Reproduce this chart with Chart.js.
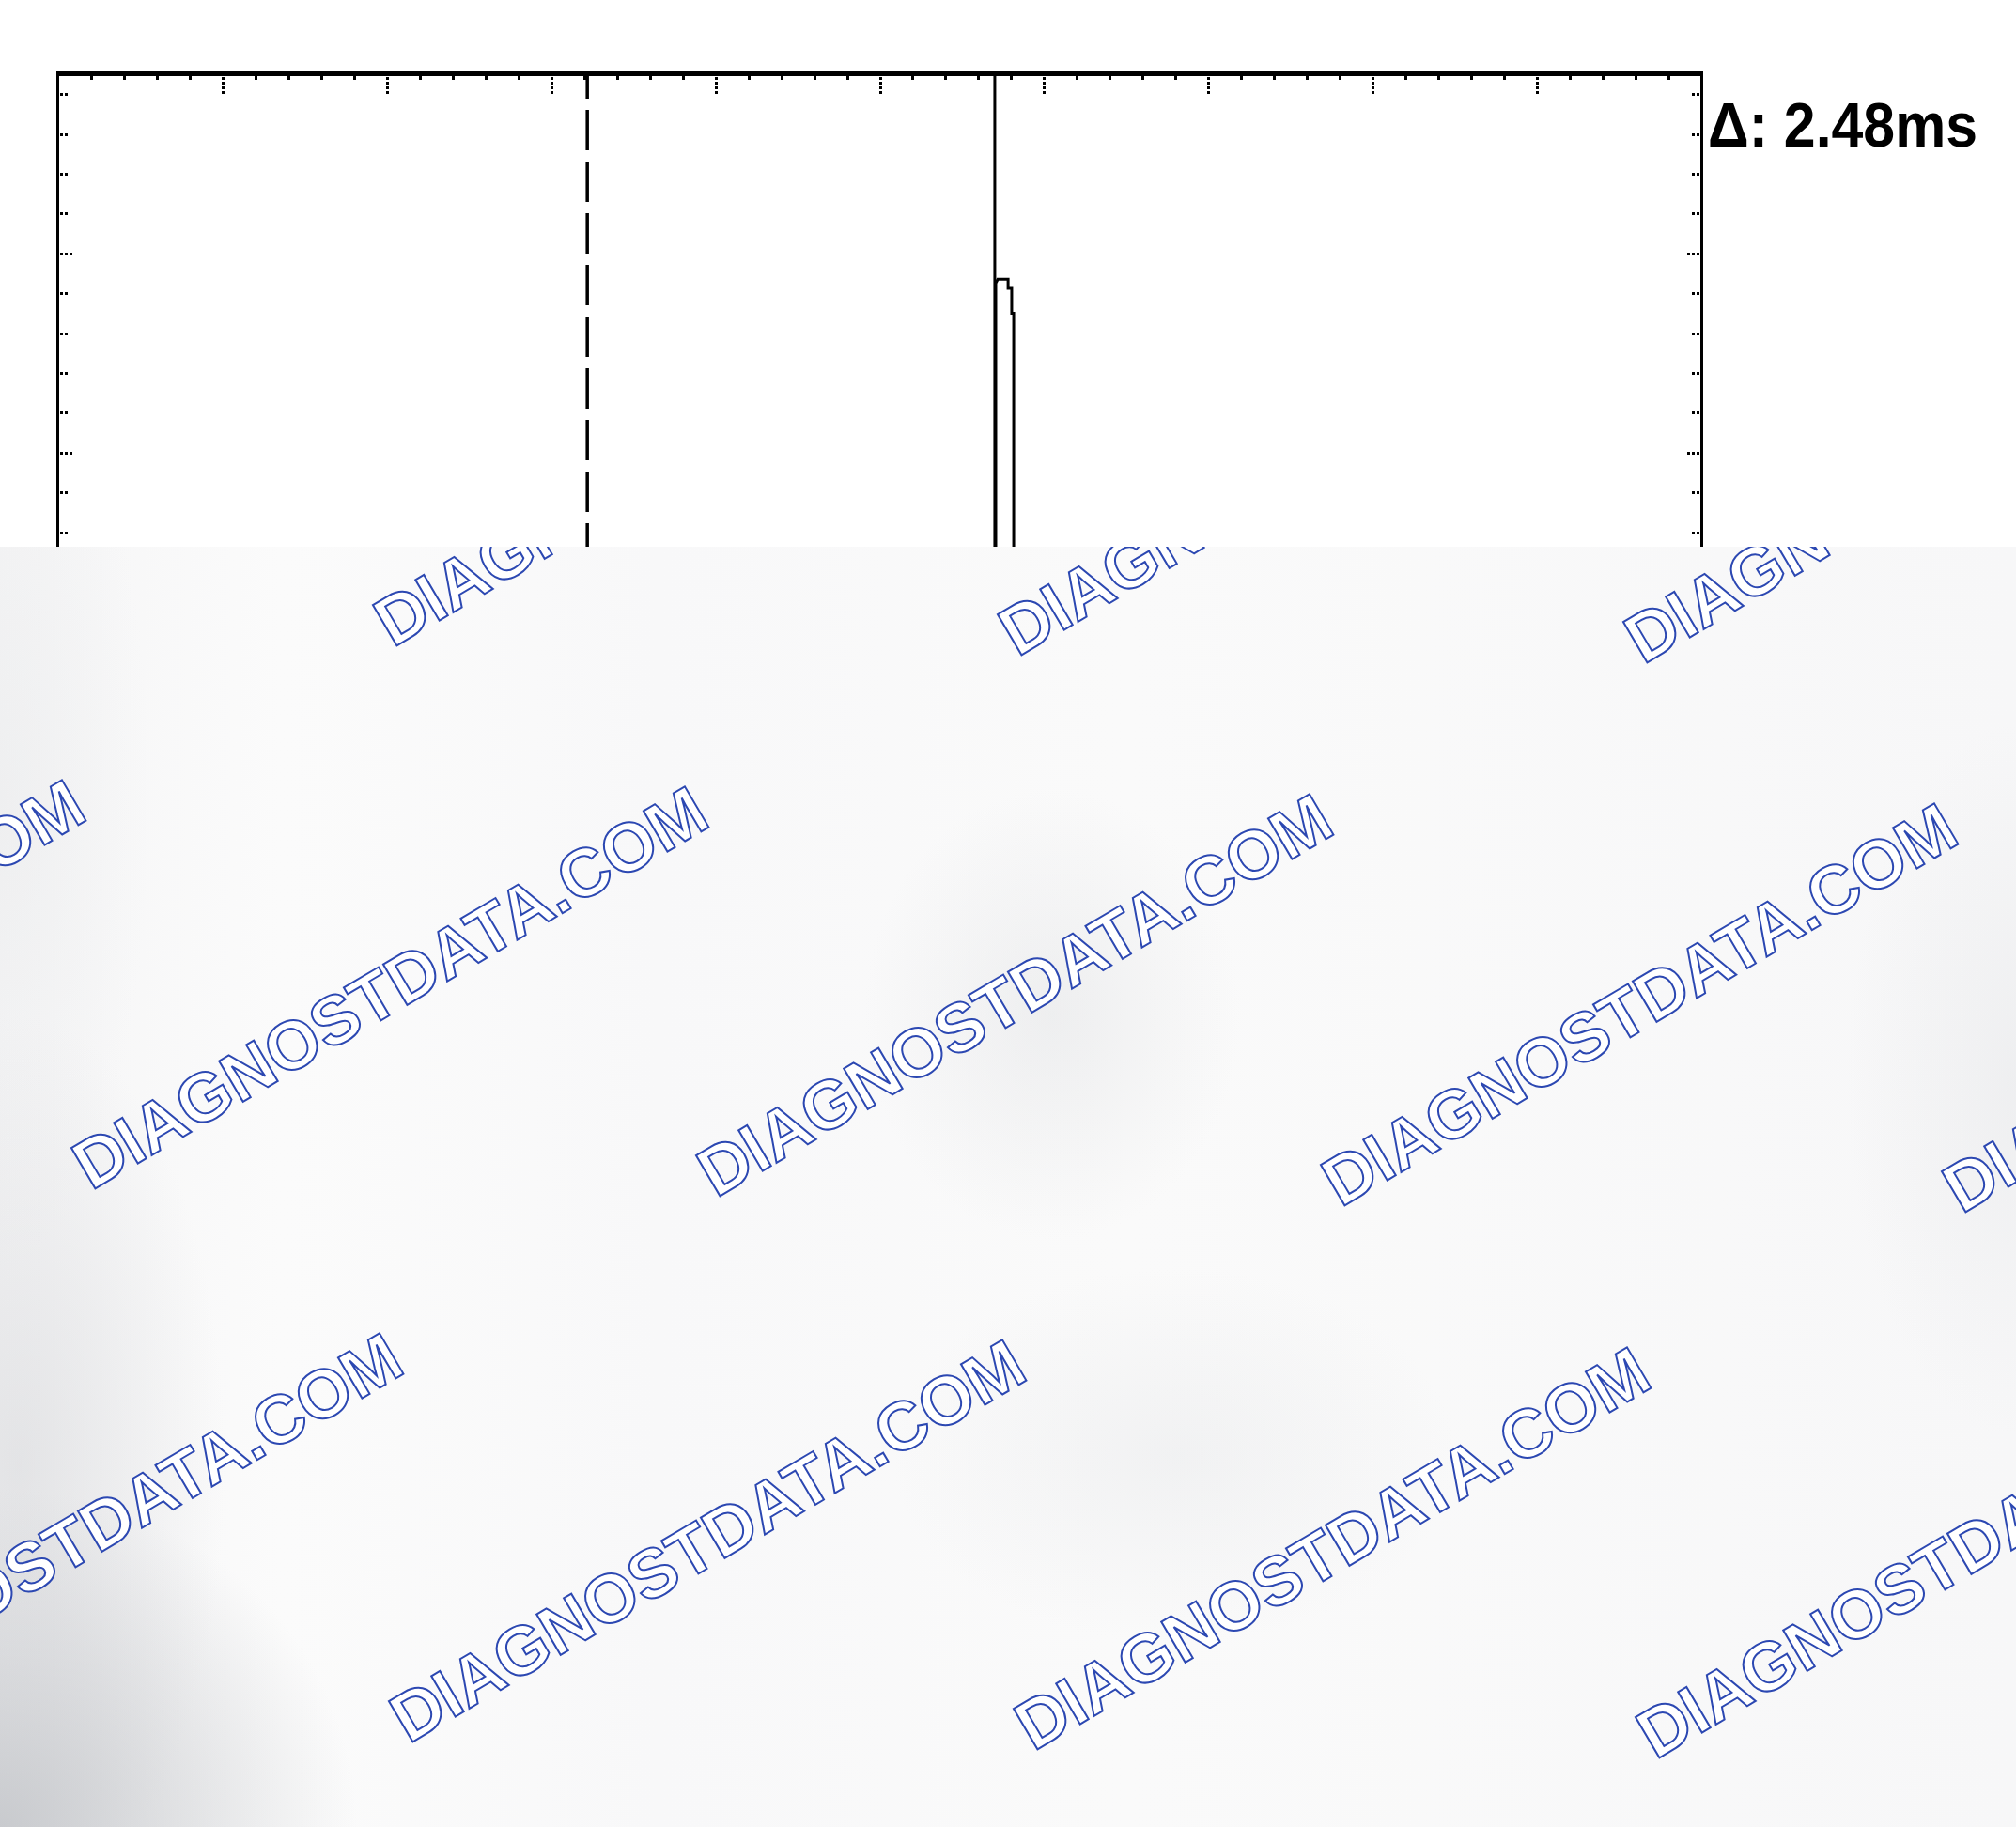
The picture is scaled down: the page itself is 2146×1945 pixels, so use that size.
<!DOCTYPE html>
<html>
<head>
<meta charset="utf-8">
<script src="https://cdn.jsdelivr.net/npm/chart.js@4.4.1/dist/chart.umd.min.js"></script>
<style>
  html, body { margin: 0; padding: 0; }
  body {
    width: 2146px;
    height: 1945px;
    position: relative;
    overflow: hidden;
    background:
      radial-gradient(ellipse 380px 360px at 0px 1945px, rgba(196,198,202,0.9), rgba(196,198,202,0) 100%),
      radial-gradient(ellipse 220px 480px at 20px 1560px, rgba(212,213,216,0.55), rgba(212,213,216,0) 100%),
      radial-gradient(ellipse 200px 240px at 1120px 1080px, rgba(226,227,229,0.5), rgba(226,227,229,0) 100%),
      radial-gradient(ellipse 300px 200px at 1250px 1550px, rgba(232,233,235,0.5), rgba(232,233,235,0) 100%),
      radial-gradient(ellipse 180px 380px at 2146px 1150px, rgba(230,231,233,0.5), rgba(230,231,233,0) 100%),
      radial-gradient(ellipse 160px 500px at 0px 850px, rgba(234,235,236,0.6), rgba(234,235,236,0) 100%),
      linear-gradient(90deg, #f5f5f6 0px, #fbfbfb 300px, #f8f8f9 700px, #fafafa 1200px, #f7f7f8 2146px);
  }
  .mark {
    position: absolute;
    font: bold 73px "Liberation Sans", Arial, sans-serif;
    color: #ffffff;
    -webkit-text-stroke: 2px #2c48b2;
    white-space: nowrap;
    transform: translate(-50%, -50%) rotate(-30.5deg);
    line-height: 1;
  }
  #scope {
    position: absolute;
    left: 0; top: 0;
    width: 2146px;
    height: 582px;
    overflow: hidden;
    background: #ffffff;
    z-index: 2;
  }
</style>
</head>
<body>
<div id="marks"></div>
<div id="scope"><canvas id="trace" width="2146" height="1800"></canvas></div>
<script>
// time axis in ms (1 ms per division), level in divisions
const timeMin = 0;
const timeMax = 10;
const levelMin = -4.1;
const levelMax = 3.9;

// captured waveform (baseline sits below the visible part of the scan)
const traceTimeMs = [0, 5.706, 5.706, 5.718, 5.781, 5.781, 5.803, 5.803, 5.815, 5.815, 10];
const traceLevelDiv = [-2.5, -2.5, 2.85, 2.87, 2.87, 2.825, 2.825, 2.70, 2.70, -2.5, -2.5];

// cursor A (dashed) and cursor B (solid)
const cursorTimesMs = [3.22, 5.70];

const watermarkText = "DIAGNOSTDATA.COM";

// watermark centres, page px
const markCentres = [
  [736, 473], [1401, 483], [2067, 491],
  [-248, 1044], [415, 1051], [1080, 1059], [1745, 1069], [2406, 1076],
  [90, 1633], [753, 1640], [1418, 1648], [2080, 1657]
];

const marks = document.getElementById("marks");
markCentres.forEach(function (c) {
  const d = document.createElement("div");
  d.className = "mark";
  d.textContent = watermarkText;
  d.style.left = c[0] + "px";
  d.style.top = c[1] + "px";
  marks.appendChild(d);
});

const deltaLabel = "\u0394: " + (cursorTimesMs[1] - cursorTimesMs[0]).toFixed(2) + "ms";

const tracePoints = traceTimeMs.map(function (t, i) {
  return { x: t, y: traceLevelDiv[i] };
});

const scopeFrame = {
  id: "scopeFrame",
  afterDraw(chart) {
    const ctx = chart.ctx;
    const a = chart.chartArea;
    const xs = chart.scales.x;
    const ys = chart.scales.y;
    ctx.save();
    ctx.fillStyle = "#000";

    // frame
    ctx.fillRect(a.left - 2, a.top - 3, a.right - a.left + 4, 5);
    ctx.fillRect(a.left - 2, a.top, 3, a.bottom - a.top);
    ctx.fillRect(a.right - 1, a.top, 3, a.bottom - a.top);

    // ticks on the top edge
    for (let i = 1; i < 50; i++) {
      const t = timeMin + i * 0.2;
      const px = Math.round(xs.getPixelForValue(t));
      if (i % 5 === 0) {
        for (let k = 0; k < 4; k++) ctx.fillRect(px - 1, a.top + 3 + k * 5, 3, 3);
      } else {
        ctx.fillRect(px - 1, a.top + 2, 3, 4);
      }
    }

    // ticks on left and right edges
    for (let v = Math.ceil(levelMin * 5) / 5; v < levelMax; v += 0.2) {
      const py = Math.round(ys.getPixelForValue(v));
      const major = Math.abs(v - Math.round(v)) < 0.01;
      const n = major ? 3 : 2;
      for (let k = 0; k < n; k++) {
        ctx.fillRect(a.left + 2 + k * 5, py - 1, 3, 3);
        ctx.fillRect(a.right - 5 - k * 5, py - 1, 3, 3);
      }
    }

    // delta readout
    ctx.font = "bold 66px 'Liberation Sans', Arial, sans-serif";
    ctx.textBaseline = "alphabetic";
    const w = ctx.measureText(deltaLabel).width;
    ctx.translate(a.right + 7, 156);
    ctx.scale(287 / w, 1);
    ctx.fillText(deltaLabel, 0, 0);
    ctx.restore();
  }
};

const ctx = document.getElementById("trace");

let scopeChart = new Chart(ctx, {
  type: "line",
  data: {
    datasets: [
      {
        label: "trace",
        data: tracePoints,
        borderColor: "#000",
        borderWidth: 3,
        pointRadius: 0,
        tension: 0,
      },
      {
        label: "cursor A",
        data: [{ x: cursorTimesMs[0], y: levelMax }, { x: cursorTimesMs[0], y: levelMin }],
        borderColor: "#000",
        borderWidth: 3.5,
        borderDash: [43, 12],
        borderDashOffset: 17,
        pointRadius: 0,
      },
      {
        label: "cursor B",
        data: [{ x: cursorTimesMs[1], y: levelMax }, { x: cursorTimesMs[1], y: levelMin }],
        borderColor: "#000",
        borderWidth: 3,
        pointRadius: 0,
      },
    ],
  },
  options: {
    responsive: false,
    animation: false,
    devicePixelRatio: 1,
    layout: { padding: { left: 62, right: 335, top: 79, bottom: 25 } },
    plugins: { legend: { display: false }, tooltip: { enabled: false } },
    scales: {
      x: { type: "linear", min: timeMin, max: timeMax, display: false },
      y: { type: "linear", min: levelMin, max: levelMax, display: false },
    },
  },
  plugins: [scopeFrame],
});
</script>
</body>
</html>
